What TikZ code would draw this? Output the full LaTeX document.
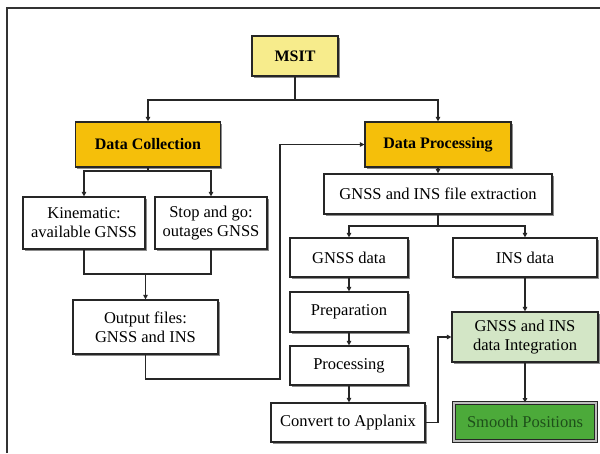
\documentclass[tikz,border=0pt]{standalone}
\usepackage{fontspec}
\setmainfont{Liberation Serif}
\usetikzlibrary{arrows.meta,shadows}
\definecolor{msit}{HTML}{F7EC8C}
\definecolor{gold}{HTML}{F5BF0A}
\definecolor{lgreen}{HTML}{D3E6C6}
\definecolor{dgreen}{HTML}{4CAA3A}
\definecolor{tgreen}{HTML}{1E4F1A}
\tikzset{
  box/.style={draw=black!85, line width=1.2pt, fill=white, align=center, inner sep=1pt,
    font=\rmfamily\fontsize{16.5}{19}\selectfont,
    drop shadow={shadow xshift=1.5pt, shadow yshift=-1.5pt, fill=black!45, opacity=1}},
  boldbox/.style={box, font=\rmfamily\fontsize{16}{19}\selectfont\bfseries},
  arr/.style={draw=black!85, line width=1.1pt, -{Triangle[length=4.5pt,width=4.5pt]}},
  ln/.style={draw=black!85, line width=1.1pt},
}
\begin{document}
\begin{tikzpicture}[x=1pt,y=-1pt]
\useasboundingbox (0,0) rectangle (600,453);
\fill[white] (0,0) rectangle (600,453);
\draw[black!80, line width=2pt] (7,453) -- (7,8) -- (600,8);

\node[boldbox, fill=msit, minimum width=86pt, minimum height=40pt] (msit) at (295,56) {MSIT};
\node[boldbox, fill=gold, minimum width=145pt, minimum height=45pt] (dc) at (148,144.5) {Data Collection};
\node[boldbox, fill=gold, minimum width=146pt, minimum height=45pt] (dp) at (438,144.5) {Data Processing};
\node[box, minimum width=122pt, minimum height=52pt] (kin) at (84,223) {Kinematic:\\available GNSS};
\node[box, minimum width=112pt, minimum height=52pt] (stop) at (211,223) {Stop and go:\\outages GNSS};
\node[box, minimum width=145pt, minimum height=54pt] (out) at (145.5,327) {Output files:\\GNSS and INS};
\node[box, minimum width=228pt, minimum height=40pt] (ext) at (438,194) {GNSS and INS file extraction};
\node[box, minimum width=118pt, minimum height=39pt] (gd) at (349,257.5) {GNSS data};
\node[box, minimum width=144pt, minimum height=39pt] (ins) at (525,257.5) {INS data};
\node[box, minimum width=118pt, minimum height=40pt] (prep) at (349,312) {Preparation};
\node[box, minimum width=118pt, minimum height=39pt] (proc) at (349,365.5) {Processing};
\node[box, minimum width=154pt, minimum height=39pt] (conv) at (348,422.5) {Convert to Applanix};
\node[box, fill=lgreen, minimum width=146pt, minimum height=50pt] (integ) at (525,337) {GNSS and INS\\data Integration};
\node[box, fill=dgreen, text=tgreen, double=black!25, double distance=2pt, line width=0.9pt, minimum width=142pt, minimum height=38pt] (smooth) at (525,422) {Smooth Positions};

\coordinate (j1) at (295,100);
\coordinate (j2) at (148,171);
\coordinate (j3) at (145.5,274);
\coordinate (c1) at (280,379);
\coordinate (j4) at (438,226);
\coordinate (c2) at (438,422.5);

\draw[ln] (msit.south) -- (j1);
\draw[arr] (j1) -| (dc.north);
\draw[arr] (j1) -| (dp.north);
\draw[ln] (dc.south) -- (j2);
\draw[arr] (j2) -| (kin.north);
\draw[arr] (j2) -| (stop.north);
\draw[ln] (kin.south) |- (j3);
\draw[ln] (stop.south) |- (j3);
\draw[arr] (j3) -- (out.north);
\draw[arr] (out.south) |- (c1) |- (dp.west);
\draw[arr] (dp.south) -- (ext.north);
\draw[ln] (ext.south) -- (j4);
\draw[arr] (j4) -| (gd.north);
\draw[arr] (j4) -| (ins.north);
\draw[arr] (gd) -- (prep);
\draw[arr] (prep) -- (proc);
\draw[arr] (proc.south) -- (proc.south |- conv.north);
\draw[arr] (conv.east) -- (c2) |- (integ.west);
\draw[arr] (ins) -- (integ);
\draw[arr] (integ) -- (smooth);
\end{tikzpicture}
\end{document}
